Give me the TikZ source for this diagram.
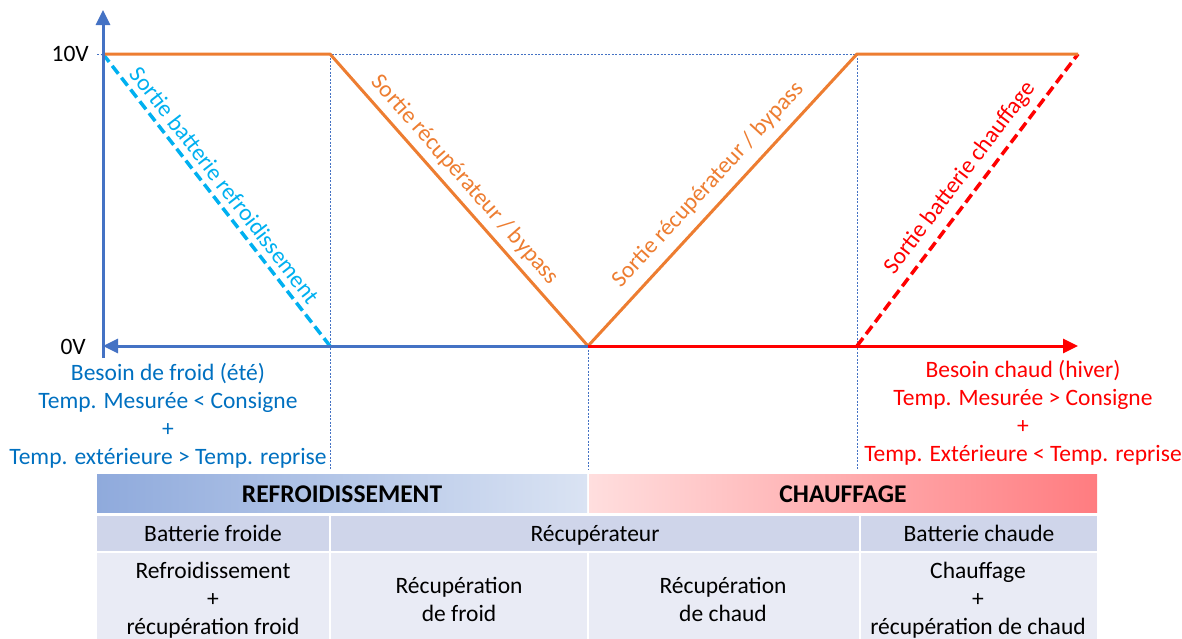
\documentclass[tikz,border=0pt]{standalone}
\usepackage{fontspec}
\setmainfont{Carlito}
\usetikzlibrary{arrows.meta}
\definecolor{axblue}{HTML}{4472C4}
\definecolor{orng}{HTML}{ED7D31}
\definecolor{cyanb}{HTML}{00B0F0}
\definecolor{txtblue}{HTML}{0070C0}
\definecolor{redc}{HTML}{FF0000}
\definecolor{hdrblueL}{HTML}{8FAADC}
\definecolor{hdrblueR}{HTML}{DAE3F3}
\definecolor{hdrredL}{HTML}{FFDEDE}
\definecolor{hdrredR}{HTML}{FF7C80}
\definecolor{rowA}{HTML}{CFD5EA}
\definecolor{rowB}{HTML}{E9EBF5}
\tikzset{
  axisline/.style={line width=3pt, -{Triangle[length=15pt,width=14pt]}},
  guide/.style={axblue, line width=0.8pt, dash pattern=on 2pt off 1.5pt},
  curve/.style={orng, line width=3pt},
  dashcurve/.style={line width=3.5pt, dash pattern=on 10pt off 5pt},
  lbl/.style={font=\fontsize{23.5}{28}\selectfont, inner sep=0pt},
  cond/.style={font=\fontsize{23.5}{28}\selectfont, align=center, inner sep=0pt},
  cellA/.style={fill=rowA, draw=none},
  cellB/.style={fill=rowB, draw=none},
  celltxt/.style={font=\fontsize{23.5}{28}\selectfont, align=center, inner sep=0pt, text=black},
  hdrtxt/.style={font=\bfseries\fontsize{25.5}{28}\selectfont, inner sep=0pt, text=black},
}
\begin{document}
\begin{tikzpicture}[x=1pt,y=-1pt]
\useasboundingbox (0,0) rectangle (1182,638);
% key points
\coordinate (top) at (103,10);
\coordinate (ybot) at (103,358);
\coordinate (hi0) at (103,54);
\coordinate (hiA) at (330,54);
\coordinate (loA) at (330,346);
\coordinate (O) at (588,346);
\coordinate (hiB) at (857,54);
\coordinate (loB) at (857,346);
\coordinate (hiC) at (1078,54);
\coordinate (left) at (103,346);
\coordinate (right) at (1078,346);
\coordinate (gA) at (330,470);
\coordinate (gO) at (588,470);
\coordinate (gB) at (857,470);
\coordinate (hi00) at (97,54);

% guide lines
\draw[guide] (hi00) -- (hiB);
\draw[guide] (hiA) -- (gA);
\draw[guide] (O) -- (gO);
\draw[guide] (hiB) -- (gB);

% dashed curves
\draw[dashcurve, cyanb] (hi0) -- (loA);
\draw[dashcurve, redc] (loB) -- (hiC);

% orange curve
\draw[curve, line join=round] (hi0) -- (hiA) -- (O) -- (hiB) -- (hiC);

% axes
\draw[axisline, axblue] (ybot) -- (top);
\draw[axisline, axblue] (O) -- (left);
\draw[axisline, redc] (O) -- (right);

% axis labels
\node[lbl, anchor=east] (l10) at (89,54) {10V};
\node[lbl, anchor=east] (l0) at (86,347) {0V};

% curve labels
\node[lbl, text=cyanb, rotate=-52.1] (tc) at (225,185) {Sortie batterie refroidissement};
\node[lbl, text=orng, rotate=-48.5] (to1) at (465,180) {Sortie récupérateur / bypass};
\node[lbl, text=orng, rotate=47.3] (to2) at (708,185) {Sortie récupérateur / bypass};
\node[lbl, text=redc, rotate=52.9] (tr) at (960,178) {Sortie batterie chauffage};

% conditions
\node[cond, text=txtblue] (cf) at (168,416) {Besoin de froid (été)\\Temp. Mesurée < Consigne\\+\\Temp. extérieure > Temp. reprise};
\node[cond, text=redc] (cc) at (1023,413) {Besoin chaud (hiver)\\Temp. Mesurée > Consigne\\+\\Temp. Extérieure < Temp. reprise};

% table header
\shade[left color=hdrblueL, right color=hdrblueR] (97,474) rectangle (587,512);
\shade[left color=hdrredL, right color=hdrredR] (589,474) rectangle (1097,512);
\node[hdrtxt, anchor=base] (hR) at (342,502) {REFROIDISSEMENT};
\node[hdrtxt, anchor=base] (hC) at (843,502) {CHAUFFAGE};

% row 2
\fill[cellA] (97,516) rectangle (329,551);
\fill[cellA] (331,516) rectangle (859,551);
\fill[cellA] (861,516) rectangle (1097,551);
\node[celltxt, anchor=base] (bf) at (213,541) {Batterie froide};
\node[celltxt, anchor=base] (rc) at (595,541) {Récupérateur};
\node[celltxt, anchor=base] (bc) at (979,541) {Batterie chaude};

% row 3
\fill[cellB] (97,553) rectangle (329,640);
\fill[cellB] (331,553) rectangle (587,640);
\fill[cellB] (589,553) rectangle (859,640);
\fill[cellB] (861,553) rectangle (1097,640);
\node[celltxt] (c1) at (213,600) {Refroidissement\\+\\récupération froid};
\node[celltxt] (c2) at (459,599) {Récupération\\de froid};
\node[celltxt] (c3) at (723,599) {Récupération\\de chaud};
\node[celltxt] (c4) at (978,600) {Chauffage\\+\\récupération de chaud};
\end{tikzpicture}
\end{document}
